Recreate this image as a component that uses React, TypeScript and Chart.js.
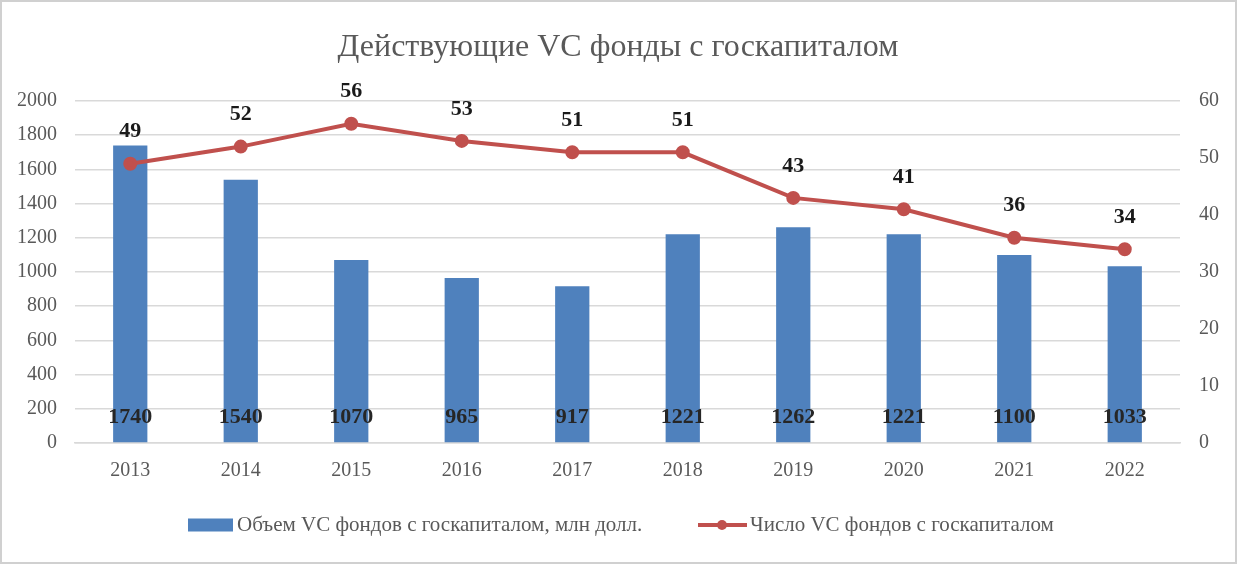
import React, { useEffect, useRef } from "react";
import { Chart, registerables } from "chart.js";

Chart.register(...registerables);

const years = ["2013", "2014", "2015", "2016", "2017", "2018", "2019", "2020", "2021", "2022"];
const volume = [1740, 1540, 1070, 965, 917, 1221, 1262, 1221, 1100, 1033];
const fundCount = [49, 52, 56, 53, 51, 51, 43, 41, 36, 34];
const leftTicks = [0, 200, 400, 600, 800, 1000, 1200, 1400, 1600, 1800, 2000];
const rightTicks = [0, 10, 20, 30, 40, 50, 60];

const titleText = "Действующие VC фонды с госкапиталом";
const barLabel = "Объем VC фондов с госкапиталом, млн долл.";
const lineLabel = "Число VC фондов с госкапиталом";

const BAR_COLOR = "#4f81bd";
const LINE_COLOR = "#c0504d";
const TEXT_GREY = "#595959";
const SERIF = "'Liberation Serif', 'Times New Roman', serif";

const overlayPlugin = {
  id: "overlay",
  afterDatasetsDraw(chart: any) {
    const ctx = chart.ctx;
    ctx.save();
    const barMeta = chart.getDatasetMeta(0);
    ctx.font = `bold 22px ${SERIF}`;
    ctx.fillStyle = "#262626";
    ctx.textAlign = "center";
    ctx.textBaseline = "middle";
    barMeta.data.forEach((el: any, i: number) => {
      ctx.fillText(String(volume[i]), el.x, el.base - 25);
    });
    const lineMeta = chart.getDatasetMeta(1);
    ctx.fillStyle = "#1a1a1a";
    lineMeta.data.forEach((el: any, i: number) => {
      ctx.fillText(String(fundCount[i]), el.x, el.y - 32);
    });
    ctx.restore();
  },
  afterDraw(chart: any) {
    const ctx = chart.ctx;
    const w = chart.width;
    const h = chart.height;
    ctx.save();
    ctx.font = `32px ${SERIF}`;
    ctx.fillStyle = TEXT_GREY;
    ctx.textAlign = "center";
    ctx.textBaseline = "middle";
    ctx.fillText(titleText, 618, 48);
    const ly = 525;
    ctx.font = `21px ${SERIF}`;
    ctx.textAlign = "left";
    ctx.fillStyle = BAR_COLOR;
    ctx.fillRect(188, ly - 6.5, 45, 13);
    ctx.fillStyle = TEXT_GREY;
    ctx.fillText(barLabel, 237, ly);
    ctx.strokeStyle = LINE_COLOR;
    ctx.lineWidth = 4;
    ctx.beginPath();
    ctx.moveTo(698, ly);
    ctx.lineTo(747, ly);
    ctx.stroke();
    ctx.fillStyle = LINE_COLOR;
    ctx.beginPath();
    ctx.arc(722, ly, 5, 0, Math.PI * 2);
    ctx.fill();
    ctx.fillStyle = TEXT_GREY;
    ctx.fillText(lineLabel, 750, ly);
    ctx.strokeStyle = "#d0d0d0";
    ctx.lineWidth = 2;
    ctx.strokeRect(1, 1, w - 2, h - 2);
    ctx.restore();
  },
};

export default function App() {
  const ref = useRef<HTMLCanvasElement | null>(null);
  useEffect(() => {
    if (!ref.current) return;
    const chart = new Chart(ref.current, {
      type: "bar",
      data: {
        labels: years,
        datasets: [
          {
            type: "bar",
            label: barLabel,
            data: volume,
            backgroundColor: BAR_COLOR,
            yAxisID: "y",
            categoryPercentage: 1,
            barPercentage: 0.31,
            order: 2,
          },
          {
            type: "line",
            label: lineLabel,
            data: fundCount,
            borderColor: LINE_COLOR,
            backgroundColor: LINE_COLOR,
            borderWidth: 4,
            pointRadius: 5,
            pointBackgroundColor: LINE_COLOR,
            pointBorderColor: LINE_COLOR,
            yAxisID: "y1",
            tension: 0,
            order: 1,
          } as any,
        ],
      },
      options: {
        responsive: false,
        animation: false,
        maintainAspectRatio: false,
        layout: { padding: { top: 101, bottom: 71, left: 0, right: 0 } },
        plugins: {
          legend: { display: false },
          title: { display: false },
          tooltip: { enabled: false },
        },
        scales: {
          x: {
            grid: { display: false, drawTicks: false },
            border: { color: "#d9d9d9", width: 1.5 },
            ticks: { color: TEXT_GREY, font: { family: SERIF, size: 20 }, padding: 16 },
            afterFit: (s: any) => {
              s.height = 50;
            },
          },
          y: {
            position: "left",
            min: 0,
            max: 2000,
            afterBuildTicks: (s: any) => {
              s.ticks = leftTicks.map((v) => ({ value: v }));
            },
            grid: { color: "#d9d9d9", lineWidth: 1.5, drawTicks: false },
            border: { display: false },
            ticks: {
              color: TEXT_GREY,
              font: { family: SERIF, size: 20 },
              padding: 18,
              callback: (v: any) => String(v),
            },
            afterFit: (s: any) => {
              s.width = 75;
            },
          },
          y1: {
            position: "right",
            min: 0,
            max: 60,
            afterBuildTicks: (s: any) => {
              s.ticks = rightTicks.map((v) => ({ value: v }));
            },
            grid: { display: false, drawTicks: false },
            border: { display: false },
            ticks: {
              color: TEXT_GREY,
              font: { family: SERIF, size: 20 },
              padding: 19,
              callback: (v: any) => String(v),
            },
            afterFit: (s: any) => {
              s.width = 57;
            },
          },
        },
      },
      plugins: [overlayPlugin],
    });
    return () => chart.destroy();
  }, []);
  return (
    <div style={{ position: "fixed", left: 0, top: 0, width: 1237, height: 564, background: "#fff" }}>
      <canvas ref={ref} width={1237} height={564} style={{ width: 1237, height: 564 }} />
    </div>
  );
}
